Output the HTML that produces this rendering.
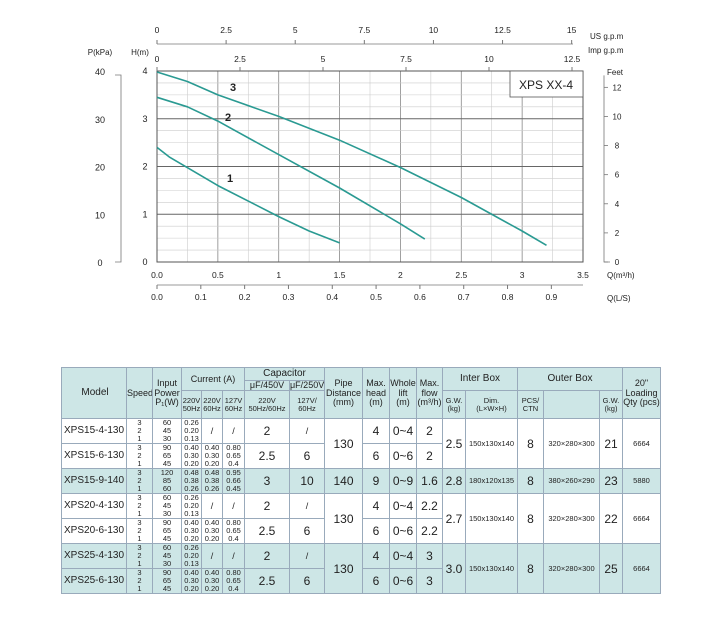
<!DOCTYPE html>
<html><head><meta charset="utf-8"><style>
body{margin:0;background:#fff;font-family:"Liberation Sans",sans-serif;}
#wrap{position:relative;width:711px;height:624px;overflow:hidden;}
svg text{font-family:"Liberation Sans",sans-serif;fill:#222;}
table{position:absolute;left:61px;top:367px;width:599px;border-collapse:collapse;table-layout:fixed;font-size:9px;color:#222;}
td{border:1px solid #9ab;padding:0;text-align:center;vertical-align:middle;line-height:1.05;overflow:hidden;white-space:nowrap;}
.h td{background:#cde6e6;}
.sh td{background:#cde6e6;}
.m{font-size:10px;text-align:left;padding-left:2px;}
.s{font-size:7.5px;line-height:8px;}
.b{font-size:12px;}
</style></head><body><div id="wrap">
<svg id="chart" width="711" height="340" style="position:absolute;left:0;top:0"></svg>
<table>
<colgroup><col style="width:65px"><col style="width:26px"><col style="width:29px"><col style="width:20px"><col style="width:21px"><col style="width:22px"><col style="width:45px"><col style="width:35px"><col style="width:38px"><col style="width:27px"><col style="width:27px"><col style="width:26px"><col style="width:23px"><col style="width:52px"><col style="width:26px"><col style="width:56px"><col style="width:23px"><col style="width:38px"></colgroup>
<tr class="h" style="height:13px"><td rowspan="3" class="m" style="text-align:center;font-size:10px">Model</td><td rowspan="3">Speed</td><td rowspan="3">Input<br>Power<br>P₁(W)</td><td colspan="3" rowspan="2">Current (A)</td><td colspan="2" style="font-size:10px">Capacitor</td><td rowspan="3">Pipe<br>Distance<br>(mm)</td><td rowspan="3">Max.<br>head<br>(m)</td><td rowspan="3">Whole<br>lift<br>(m)</td><td rowspan="3">Max.<br>flow<br>(m³/h)</td><td colspan="2" rowspan="2" style="font-size:10px">Inter Box</td><td colspan="3" rowspan="2" style="font-size:10px">Outer Box</td><td rowspan="3">20"<br>Loading<br>Qty (pcs)</td></tr>
<tr class="h" style="height:9px"><td>μF/450V</td><td>μF/250V</td></tr>
<tr class="h" style="height:28px"><td class="s">220V<br>50Hz</td><td class="s">220V<br>60Hz</td><td class="s">127V<br>60Hz</td><td class="s">220V<br>50Hz/60Hz</td><td class="s">127V/<br>60Hz</td><td class="s">G.W.<br>(kg)</td><td class="s">Dim.<br>(L×W×H)</td><td class="s">PCS/<br>CTN</td><td></td><td class="s">G.W.<br>(kg)</td></tr>
<tr style="height:25px"><td class="m">XPS15-4-130</td><td class="s">3<br>2<br>1</td><td class="s">60<br>45<br>30</td><td class="s">0.26<br>0.20<br>0.13</td><td>/</td><td>/</td><td class="b">2</td><td>/</td><td rowspan="2" class="b">130</td><td class="b">4</td><td class="b">0~4</td><td class="b">2</td><td rowspan="2" class="b">2.5</td><td rowspan="2" class="s">150x130x140</td><td rowspan="2" class="b">8</td><td rowspan="2" class="s">320×280×300</td><td rowspan="2" class="b">21</td><td rowspan="2" class="s">6664</td></tr>
<tr style="height:25px"><td class="m">XPS15-6-130</td><td class="s">3<br>2<br>1</td><td class="s">90<br>65<br>45</td><td class="s">0.40<br>0.30<br>0.20</td><td class="s">0.40<br>0.30<br>0.20</td><td class="s">0.80<br>0.65<br>0.4</td><td class="b">2.5</td><td class="b">6</td><td class="b">6</td><td class="b">0~6</td><td class="b">2</td></tr>
<tr class="sh" style="height:25px"><td class="m">XPS15-9-140</td><td class="s">3<br>2<br>1</td><td class="s">120<br>85<br>60</td><td class="s">0.48<br>0.38<br>0.26</td><td class="s">0.48<br>0.38<br>0.26</td><td class="s">0.95<br>0.66<br>0.45</td><td class="b">3</td><td class="b">10</td><td class="b">140</td><td class="b">9</td><td class="b">0~9</td><td class="b">1.6</td><td class="b">2.8</td><td class="s">180x120x135</td><td class="b">8</td><td class="s">380×260×290</td><td class="b">23</td><td class="s">5880</td></tr>
<tr style="height:24px"><td class="m">XPS20-4-130</td><td class="s">3<br>2<br>1</td><td class="s">60<br>45<br>30</td><td class="s">0.26<br>0.20<br>0.13</td><td>/</td><td>/</td><td class="b">2</td><td>/</td><td rowspan="2" class="b">130</td><td class="b">4</td><td class="b">0~4</td><td class="b">2.2</td><td rowspan="2" class="b">2.7</td><td rowspan="2" class="s">150x130x140</td><td rowspan="2" class="b">8</td><td rowspan="2" class="s">320×280×300</td><td rowspan="2" class="b">22</td><td rowspan="2" class="s">6664</td></tr>
<tr style="height:25px"><td class="m">XPS20-6-130</td><td class="s">3<br>2<br>1</td><td class="s">90<br>65<br>45</td><td class="s">0.40<br>0.30<br>0.20</td><td class="s">0.40<br>0.30<br>0.20</td><td class="s">0.80<br>0.65<br>0.4</td><td class="b">2.5</td><td class="b">6</td><td class="b">6</td><td class="b">0~6</td><td class="b">2.2</td></tr>
<tr class="sh" style="height:25px"><td class="m">XPS25-4-130</td><td class="s">3<br>2<br>1</td><td class="s">60<br>45<br>30</td><td class="s">0.26<br>0.20<br>0.13</td><td>/</td><td>/</td><td class="b">2</td><td>/</td><td rowspan="2" class="b">130</td><td class="b">4</td><td class="b">0~4</td><td class="b">3</td><td rowspan="2" class="b">3.0</td><td rowspan="2" class="s">150x130x140</td><td rowspan="2" class="b">8</td><td rowspan="2" class="s">320×280×300</td><td rowspan="2" class="b">25</td><td rowspan="2" class="s">6664</td></tr>
<tr class="sh" style="height:25px"><td class="m">XPS25-6-130</td><td class="s">3<br>2<br>1</td><td class="s">90<br>65<br>45</td><td class="s">0.40<br>0.30<br>0.20</td><td class="s">0.40<br>0.30<br>0.20</td><td class="s">0.80<br>0.65<br>0.4</td><td class="b">2.5</td><td class="b">6</td><td class="b">6</td><td class="b">0~6</td><td class="b">3</td></tr>
</table>
</div>
<script>
const curve3Q=[0,0.25,0.5,1,1.5,2,2.5,3,3.2];
const curve3H=[3.98,3.78,3.5,3.05,2.55,1.98,1.35,0.65,0.35];
const curve2Q=[0,0.25,0.5,1,1.5,2,2.2];
const curve2H=[3.45,3.25,2.95,2.25,1.55,0.8,0.48];
const curve1Q=[0,0.1,0.5,1,1.25,1.5];
const curve1H=[2.4,2.2,1.6,0.95,0.65,0.4];
const qTicks=["0.0","0.5","1","1.5","2","2.5","3","3.5"];
const lsTicks=["0.0","0.1","0.2","0.3","0.4","0.5","0.6","0.7","0.8","0.9"];
const usTicks=["0","2.5","5","7.5","10","12.5","15"];
const impTicks=["0","2.5","5","7.5","10","12.5"];
const hTicks=["0","1","2","3","4"];
const pTicks=["0","10","20","30","40"];
const ftTicks=["0","2","4","6","8","10","12"];

const svg=document.getElementById('chart');
const NS='http://www.w3.org/2000/svg';
const X0=157,X1=583,Y0=262,Y1=71;
const xs=q=>X0+q/3.5*(X1-X0);
const ys=h=>Y0-h/4*(Y0-Y1);
function mk(t,a,p){const e=document.createElementNS(NS,t);for(const k in a)e.setAttribute(k,a[k]);(p||svg).appendChild(e);return e;}
function tx(x,y,s,fs,anchor,name,weight){const e=mk('text',{x:x,y:y,'font-size':fs||9,'text-anchor':anchor||'middle'});if(weight)e.setAttribute('font-weight',weight);e.textContent=s;


return e;}
for(let i=0;i<=14;i++){const l=mk('line',{x1:xs(i*0.25),x2:xs(i*0.25),y1:Y1,y2:Y0,stroke:i%2?'#ccc':'#888','stroke-width':i%2?0.6:0.8});

}
for(let i=0;i<=16;i++){const l=mk('line',{x1:X0,x2:X1,y1:ys(i*0.25),y2:ys(i*0.25),stroke:i%4?'#ccc':'#666','stroke-width':i%4?0.6:0.9});

}
const frame=mk('rect',{x:X0,y:Y1,width:X1-X0,height:Y0-Y1,fill:'none',stroke:'#555','stroke-width':1});


const lb=mk('rect',{x:510,y:Y1,width:X1-510,height:26,fill:'#fff',stroke:'#555','stroke-width':0.8});


tx(546,89,'XPS XX-4',12,'middle','model-label');
function curve(Q,H,name){let d='';Q.forEach((q,i)=>{d+=(i?'L':'M')+xs(q).toFixed(1)+','+ys(H[i]).toFixed(1);});
const p=mk('path',{d:d,fill:'none',stroke:'#2a9a92','stroke-width':1.6,'stroke-linejoin':'round'});

}
curve(curve3Q,curve3H,'curve-speed-3');
curve(curve2Q,curve2H,'curve-speed-2');
curve(curve1Q,curve1H,'curve-speed-1');
tx(233,91,'3',11,'middle','curve-label-3','bold');
tx(228,121,'2',11,'middle','curve-label-2','bold');
tx(230,182,'1',11,'middle','curve-label-1','bold');
hTicks.forEach((t,i)=>tx(X0-12,ys(+t)+3,t,9,'middle','h-tick'));
tx(140,55,'H(m)',8,'middle','h-axis-title');
const pl=mk('path',{d:`M115,${Y1+4}H121V${Y0}H115`,fill:'none',stroke:'#777','stroke-width':0.8});


pTicks.forEach((t,i)=>tx(100,Y0-(+t)/40*(Y0-Y1)+4,t,9,'middle','p-tick'));
tx(100,55,'P(kPa)',8,'middle','p-axis-title');
const fl=mk('path',{d:`M604,${ys(12*0.3048)-12}V${Y0}H610`,fill:'none',stroke:'#777','stroke-width':0.8});


ftTicks.forEach(t=>{const y=ys(+t*0.3048);mk('line',{x1:604,x2:608,y1:y,y2:y,stroke:'#777','stroke-width':0.8});tx(617,y+3,t,8,'middle','feet-tick');});
tx(615,75,'Feet',8,'middle','feet-axis-title');
qTicks.forEach(t=>tx(xs(+t),278,t,8.5,'middle','q-tick'));
tx(607,278,'Q(m³/h)',8,'start','q-axis-title');
const ll=mk('line',{x1:X0,x2:X1,y1:285,y2:285,stroke:'#777','stroke-width':0.8});


lsTicks.forEach(t=>{const x=xs(+t*3.6);mk('line',{x1:x,x2:x,y1:285,y2:289,stroke:'#777'});tx(x,300,t,8.5,'middle','ls-tick');});
tx(607,301,'Q(L/S)',8,'start','ls-axis-title');
const ul=mk('line',{x1:X0,x2:X1-10,y1:44,y2:44,stroke:'#777','stroke-width':0.8});


usTicks.forEach(t=>{const x=xs(+t/4.403);mk('line',{x1:x,x2:x,y1:40,y2:44,stroke:'#777'});tx(x,33,t,8.5,'middle','us-tick');});
tx(590,39,'US  g.p.m',8,'start','us-gpm-title');
tx(588,53,'Imp  g.p.m',8,'start','imp-gpm-title');
impTicks.forEach(t=>{const x=xs(+t/3.666);mk('line',{x1:x,x2:x,y1:Y1,y2:Y1-4,stroke:'#777'});tx(x,62,t,8.5,'middle','imp-tick');});
</script>
</body></html>
